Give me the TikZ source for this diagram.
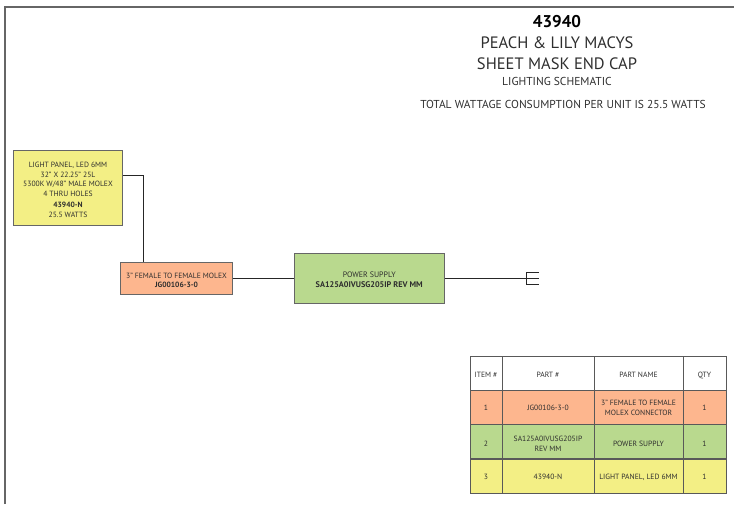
\documentclass[tikz,border=0pt]{standalone}
\usepackage{fontspec}
\setmainfont{PT Sans}
\definecolor{panelyellow}{HTML}{F3EF85}
\definecolor{molexorange}{HTML}{FDB68E}
\definecolor{supplygreen}{HTML}{B9D98E}
\definecolor{inkgray}{HTML}{2E2E2E}
\tikzset{
  partbox/.style={draw=black!60, line width=1pt, inner sep=0pt, align=center, text=inkgray, font=\fontsize{7.6}{9.4}\selectfont},
  wire/.style={line width=1pt, black!85},
  cell/.style={draw=black!65, line width=1pt, inner sep=0pt, align=center, text=inkgray, font=\fontsize{7.6}{10}\selectfont, execute at begin node=\rule[-2pt]{0pt}{10pt}},
  lowrow/.style={execute at begin node=\rule[-2pt]{0pt}{13pt}},
  tworow/.style={execute at begin node={}},
  col1/.style={cell, minimum width=32pt},
  col2/.style={cell, minimum width=92pt},
  col3/.style={cell, minimum width=89pt},
  col4/.style={cell, minimum width=43pt},
}
\begin{document}
\begin{tikzpicture}[x=1pt, y=1pt]
  \useasboundingbox (0,0) rectangle (734,504);
  \draw[line width=2pt, black!60] (4.5,0) -- (4.5,497.3) -- (734,497.3);

  % title block
  \node(num) at (557,483) [yshift=-0.8pt] {\fontsize{17}{17}\selectfont\bfseries 43940};
  \node(client) at (557,462) [yshift=-0.8pt, text=inkgray] {\fontsize{16.5}{17}\selectfont PEACH \& LILY MACYS};
  \node(job) at (557,441) [yshift=-0.8pt, text=inkgray] {\fontsize{16.5}{17}\selectfont SHEET MASK END CAP};
  \node(kind) at (557,423) [yshift=-0.8pt, text=inkgray] {\fontsize{11.5}{12}\selectfont LIGHTING SCHEMATIC};
  \node(total) at (563,400) [text=inkgray] {\fontsize{11.5}{12}\selectfont TOTAL WATTAGE CONSUMPTION PER UNIT IS 25.5 WATTS};

  % schematic
  \node(panel) at (68,316.2) [partbox, fill=panelyellow, minimum width=109pt, minimum height=75pt]
    {\rule{0pt}{9.5pt}LIGHT PANEL, LED 6MM\\32" X 22.25" 25L\\5300K W/48" MALE MOLEX\\4 THRU HOLES\\[2.2pt]\textbf{43940-N}\\25.5 WATTS};
  \node(molex) at (176.5,225.5) [partbox, fill=molexorange, minimum width=112pt, minimum height=32pt]
    {\rule{0pt}{9pt}3" FEMALE TO FEMALE MOLEX\\\textbf{JG00106-3-0}};
  \node(supply) at (369.25,225.5) [partbox, fill=supplygreen, minimum width=149.5pt, minimum height=50pt]
    {\fontsize{7.9}{9.4}\selectfont\rule{0pt}{8pt}POWER SUPPLY\\\fontsize{8.2}{9.4}\selectfont\textbf{SA125A0IVUSG205IP REV MM}};
  \coordinate(bend) at (143.5,328.5);
  \coordinate(plug) at (526,225.5);
  \draw[wire] (panel.east |- bend) -- (bend) -- (bend |- molex.north);
  \draw[wire] (molex) -- (supply);
  \draw[wire] (supply) -- (plug);
  \draw[line width=0.9pt, black!85] (539,231.3) -- (526,231.3) -- (526,219.7) -- (539,219.7);
  \draw[line width=0.9pt, black!85] (plug) -- +(13,0);

  % parts table
  \node(h1) at (486,130.75) [col1, lowrow, minimum height=33.5pt] {ITEM \#};
  \node(h2)[right of=h1, node distance=62pt, col2, lowrow, minimum height=33.5pt] {PART \#};
  \node(h3)[right of=h2, node distance=90.5pt, col3, lowrow, minimum height=33.5pt] {PART NAME};
  \node(h4)[right of=h3, node distance=66pt, col4, lowrow, minimum height=33.5pt] {QTY};
  \node(a1) at (486,96.75) [col1, fill=molexorange, minimum height=34pt] {1};
  \node(a2)[right of=a1, node distance=62pt, col2, fill=molexorange, minimum height=34pt] {JG00106-3-0};
  \node(a3)[right of=a2, node distance=90.5pt, col3, tworow, fill=molexorange, minimum height=34pt] {\rule{0pt}{8.5pt}3" FEMALE TO FEMALE\\MOLEX CONNECTOR};
  \node(a4)[right of=a3, node distance=66pt, col4, fill=molexorange, minimum height=34pt] {1};
  \node(b1) at (486,62.5) [col1, lowrow, fill=supplygreen, minimum height=34.5pt] {2};
  \node(b2)[right of=b1, node distance=62pt, col2, tworow, fill=supplygreen, minimum height=34.5pt] {\rule{0pt}{11pt}SA125A0IVUSG205IP\\REV MM};
  \node(b3)[right of=b2, node distance=90.5pt, col3, lowrow, fill=supplygreen, minimum height=34.5pt] {POWER SUPPLY};
  \node(b4)[right of=b3, node distance=66pt, col4, lowrow, fill=supplygreen, minimum height=34.5pt] {1};
  \node(c1) at (486,28) [col1, fill=panelyellow, minimum height=34pt] {3};
  \node(c2)[right of=c1, node distance=62pt, col2, fill=panelyellow, minimum height=34pt] {43940-N};
  \node(c3)[right of=c2, node distance=90.5pt, col3, fill=panelyellow, minimum height=34pt] {LIGHT PANEL, LED 6MM};
  \node(c4)[right of=c3, node distance=66pt, col4, fill=panelyellow, minimum height=34pt] {1};
\end{tikzpicture}
\end{document}
